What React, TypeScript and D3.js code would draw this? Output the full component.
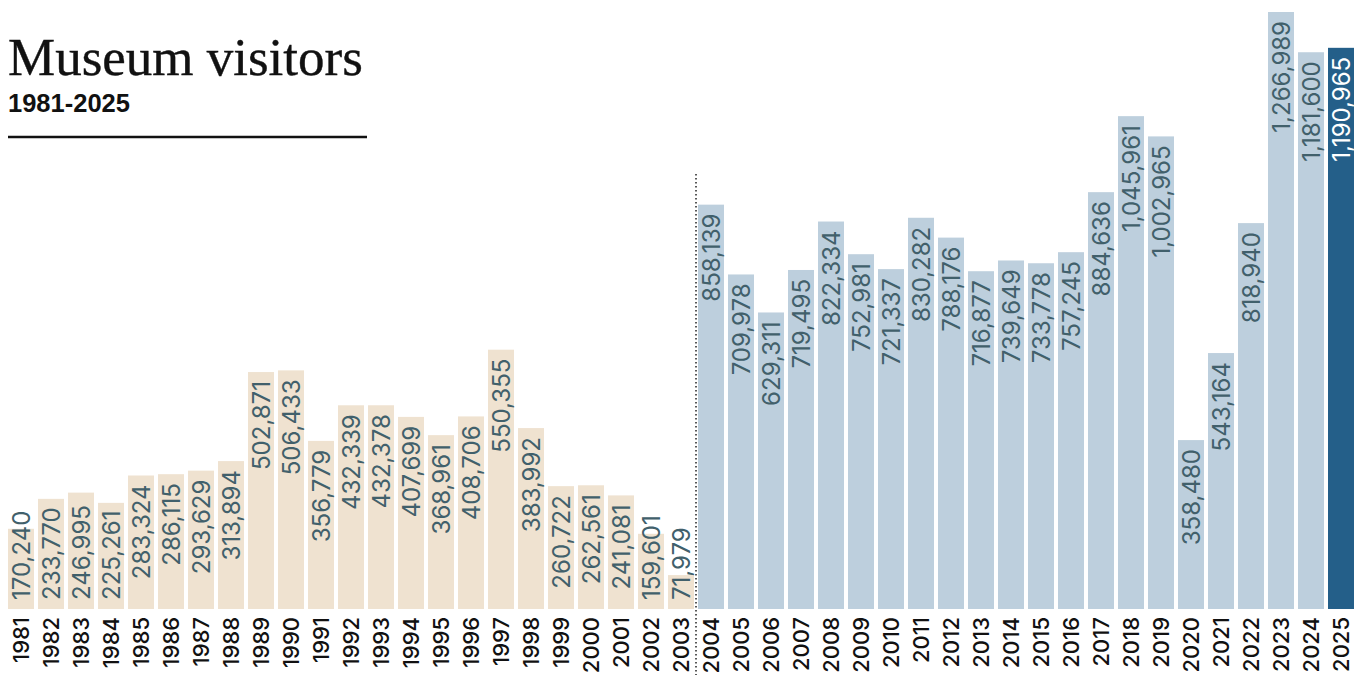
import * as d3 from "d3";

const years = d3.range(1981, 2026).map(String);
const visitors = [
  170240, 233770, 246995, 225261, 283324, 286115, 293629, 313894, 502871, 506433,
  356779, 432339, 432378, 407699, 368961, 408706, 550355, 383992, 260722, 262561,
  241081, 159601, 71979, 858139, 709978, 629311, 719495, 822334, 752981, 721337,
  830282, 788176, 716877, 739649, 733778, 757245, 884636, 1045961, 1002965, 358480,
  543164, 818940, 1266989, 1181600, 1190965,
];
// bars whose label sits at the base instead of the top
const baseLabelYears = ["1981", "1982", "1983", "1984", "2002", "2003"];
const splitYear = "2004";
const highlightYear = "2025";

const W = 1354;
const H = 675;
const baseline = 609;

const App = () => {
  const x = d3
    .scaleBand<string>()
    .domain(years)
    .range([8, W])
    .paddingInner(4 / 30)
    .paddingOuter(0);
  const y = d3
    .scaleLinear()
    .domain([0, d3.max(visitors) as number])
    .range([baseline, 12]);
  const fmt = d3.format(",");

  const colorFor = (yr: string) =>
    yr === highlightYear ? "#245f89" : +yr >= +splitYear ? "#bdcfdd" : "#efe2d0";

  const splitX = (x(splitYear) as number) - 2;

  return (
    <svg
      width={W}
      height={H}
      style={{ position: "absolute", left: 0, top: 0, background: "#fff" }}
    >
      <text
        x={8}
        y={75}
        fontFamily="'Liberation Serif', serif"
        fontSize={53}
        fill="#111"
        stroke="#111"
        strokeWidth={0.4}
      >
        Museum visitors
      </text>
      <text
        x={8}
        y={112}
        fontFamily="'Liberation Sans', Arial, sans-serif"
        fontWeight="bold"
        fontSize={25.5}
        fill="#111"
      >
        1981-2025
      </text>
      <line x1={8} x2={367} y1={137} y2={137} stroke="#111" strokeWidth={2.5} />

      <line
        x1={splitX}
        x2={splitX}
        y1={174}
        y2={H}
        stroke="#222"
        strokeWidth={1.5}
        strokeDasharray="1.5,2.5"
      />

      {years.map((yr, i) => {
        const v = visitors[i];
        const bx = x(yr) as number;
        const bw = x.bandwidth();
        const cx = bx + bw / 2;
        const top = y(v);
        const atBase = baseLabelYears.includes(yr);
        return (
          <g key={yr}>
            <rect x={bx} y={top} width={bw} height={baseline - top} fill={colorFor(yr)} />
            <text
              transform={`translate(${cx},${atBase ? baseline - 9 : top + 9}) rotate(-90)`}
              textAnchor={atBase ? "start" : "end"}
              dy="0.36em"
              fontFamily="Inter, sans-serif"
              fontSize={24}
              fill={yr === highlightYear ? "#fff" : "#41606b"}
            >
              {fmt(v)}
            </text>
            <text
              transform={`translate(${cx},617) rotate(-90)`}
              textAnchor="end"
              dy="0.36em"
              fontFamily="Inter, sans-serif"
              fontWeight={500}
              fontSize={22}
              fill="#111"
            >
              {yr}
            </text>
          </g>
        );
      })}
    </svg>
  );
};

export default App;
